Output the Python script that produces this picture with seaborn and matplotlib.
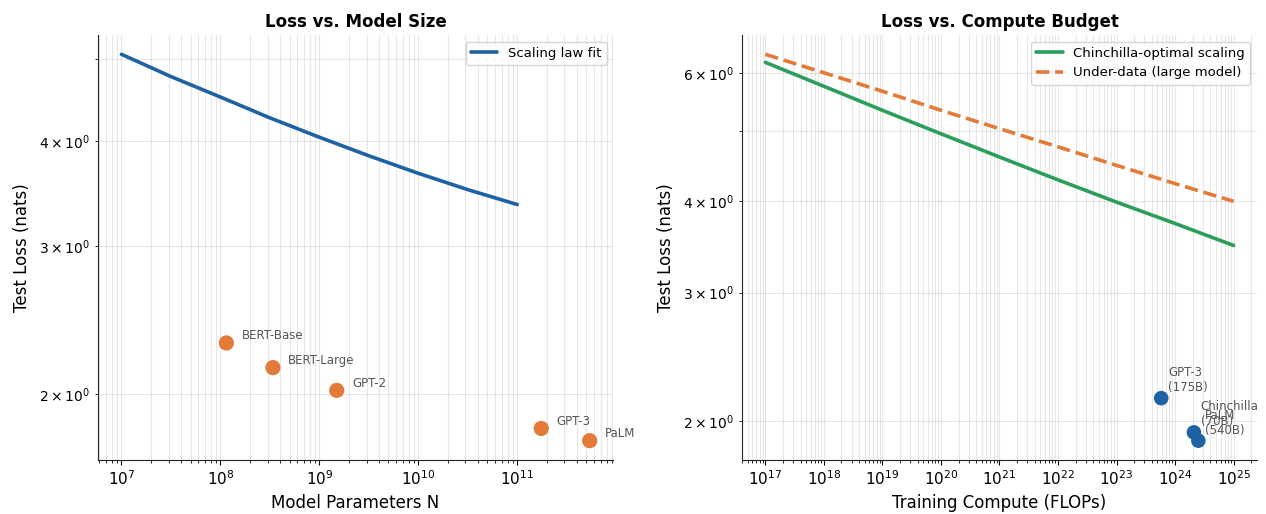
import numpy as np
import pandas as pd
import matplotlib
matplotlib.use("Agg")
import matplotlib.pyplot as plt
import seaborn as sns

# Left panel: scaling-law fit
fit_params = [1e7, 10**7.5, 1e8, 10**8.5, 1e9, 10**9.5, 1e10, 10**10.5, 1e11]
fit_loss = [5.07, 4.77, 4.51, 4.26, 4.04, 3.84, 3.66, 3.50, 3.36]

# Left panel: known models
model_names = ["BERT-Base", "BERT-Large", "GPT-2", "GPT-3", "PaLM"]
model_params = [1.15e8, 3.4e8, 1.5e9, 1.75e11, 5.4e11]
model_loss = [2.30, 2.15, 2.02, 1.82, 1.76]

# Right panel: loss vs compute
compute = [1e17, 1e18, 1e19, 1e20, 1e21, 1e22, 1e23, 1e24, 1e25]
chinchilla_loss = [6.20, 5.75, 5.33, 4.95, 4.60, 4.28, 3.99, 3.73, 3.48]
underdata_loss = [6.36, 6.00, 5.66, 5.33, 5.03, 4.75, 4.48, 4.23, 4.00]

# Right panel: landmark training runs
run_names = ["GPT-3\n(175B)", "Chinchilla\n(70B)", "PaLM\n(540B)"]
run_compute = [5.8e23, 2.1e24, 2.5e24]
run_loss = [2.15, 1.93, 1.88]

BLUE = "#1f62a3"
ORANGE = "#e27b3a"
GREEN = "#2c9e5c"

sns.set_style("ticks")
plt.rcParams["font.family"] = ["DejaVu Sans"]
plt.rcParams.update({
    "text.color": "black",
    "axes.labelcolor": "black",
    "xtick.color": "black",
    "ytick.color": "black",
    "axes.edgecolor": "#222222",
})

fig, (ax1, ax2) = plt.subplots(1, 2, figsize=(12.66, 5.14), dpi=100)
fig.subplots_adjust(left=0.0774, right=0.9929, bottom=0.105, top=0.932, wspace=0.25)

# ---- Loss vs. Model Size ----
ax1.set_xscale("log")
ax1.set_yscale("log")
sns.lineplot(x=fit_params, y=fit_loss, ax=ax1, color=BLUE, linewidth=2.6,
             label="Scaling law fit", zorder=3)
sns.scatterplot(x=model_params, y=model_loss, ax=ax1, color=ORANGE, s=120,
                edgecolor="none", zorder=4)
for name, x, y in zip(model_names, model_params, model_loss):
    ax1.annotate(name, (x, y), textcoords="offset points", xytext=(11, 2.5),
                 fontsize=8.5, color="#555555")
ax1.set_xlabel("Model Parameters N", fontsize=12)
ax1.set_ylabel("Test Loss (nats)", fontsize=12, labelpad=6)
ax1.set_title("Loss vs. Model Size", fontsize=12, fontweight="bold")
ax1.legend(loc="upper right", fontsize=9.5)

# ---- Loss vs. Compute Budget ----
ax2.set_xscale("log")
ax2.set_yscale("log")
sns.lineplot(x=compute, y=chinchilla_loss, ax=ax2, color=GREEN, linewidth=2.6,
             label="Chinchilla-optimal scaling", zorder=3)
sns.lineplot(x=compute, y=underdata_loss, ax=ax2, color=ORANGE, linewidth=2.6,
             linestyle="--", label="Under-data (large model)", zorder=3)
sns.scatterplot(x=run_compute, y=run_loss, ax=ax2, color=BLUE, s=110,
                edgecolor="none", zorder=4)
for name, x, y in zip(run_names, run_compute, run_loss):
    ax2.annotate(name, (x, y), textcoords="offset points", xytext=(5, 5),
                 fontsize=8.5, color="#555555")
ax2.set_xlabel("Training Compute (FLOPs)", fontsize=12)
ax2.set_ylabel("Test Loss (nats)", fontsize=12, labelpad=6)
ax2.set_title("Loss vs. Compute Budget", fontsize=12, fontweight="bold")
ax2.legend(loc="upper right", fontsize=9.5)

for ax in (ax1, ax2):
    ax.grid(True, which="both", color="#b0b0b0", alpha=0.3)
    ax.tick_params(labelsize=11)
    sns.despine(ax=ax)

fig.savefig("out.png", dpi=100)
